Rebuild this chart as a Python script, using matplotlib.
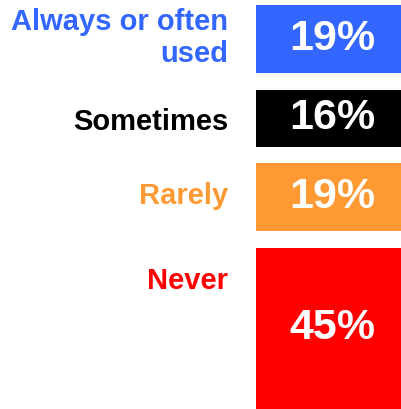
import matplotlib.pyplot as plt

# data
categories = ["Always or often\nused", "Sometimes", "Rarely", "Never"]
values = [19, 16, 19, 45]
colors = ["#3366ff", "#000000", "#ff9933", "#ff0000"]

plt.rcParams["font.family"] = ["Liberation Sans", "DejaVu Sans"]

fig = plt.figure(figsize=(4.02, 4.09), dpi=100)
ax = fig.add_axes([256 / 402, 0, 1 - 256 / 402, 404 / 409])

gap = 4.6
bottoms = []
pos = 0
for v in values:
    bottoms.append(pos)
    pos += v + gap

ax.bar([0] * len(values), values, bottom=bottoms, width=1, color=colors, align="edge")
ax.set_xlim(0, 1)
ax.set_ylim(pos - gap, 0)
ax.axis("off")

for cat, v, b, c in zip(categories, values, bottoms, colors):
    ax.text(0.52, b + v / 2, f"{v}%", color="white", fontsize=31, fontweight="bold",
            ha="center", va="center")
    ax.text(-0.19, b + 9.2, cat, color=c, fontsize=21, fontweight="bold",
            ha="right", va="center", linespacing=1.15, clip_on=False)

fig.savefig("out.png", dpi=100)
